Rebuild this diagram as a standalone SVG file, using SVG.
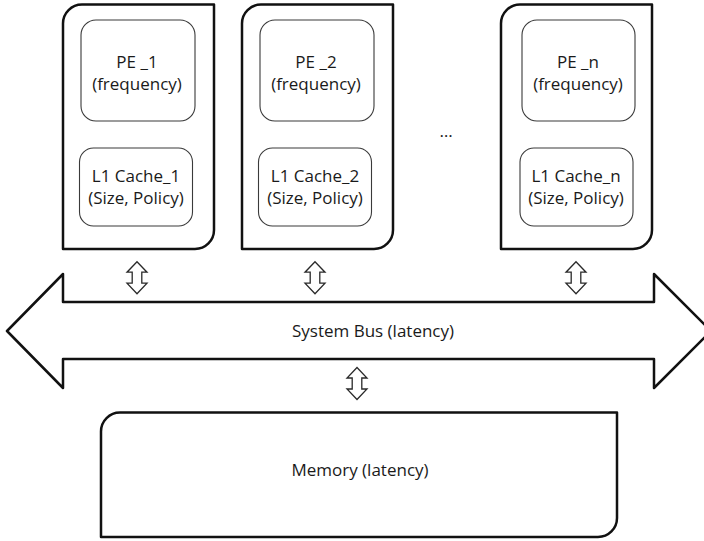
<svg xmlns="http://www.w3.org/2000/svg" xmlns:xlink="http://www.w3.org/1999/xlink" width="704" height="541" viewBox="0 0 704 541">
  <style>
    .outer { fill: #ffffff; stroke: #111111; stroke-width: 2.5; stroke-linejoin: round; }
    .inner { fill: #ffffff; stroke: #3a3a3a; stroke-width: 1.1; }
    .label { font-family: "Open Sans", "Liberation Sans", sans-serif; font-size: 17px; fill: #1a1a1a; text-anchor: middle; }
    .link { fill: #ffffff; stroke: #2a2a2a; stroke-width: 1.3; stroke-linejoin: miter; }
  </style>
  <defs>
    <!-- processing element tile: rounded top-left and bottom-right corners -->
    <path id="tile" d="M 63,249 V 23.5 A 19 19 0 0 1 82,4.5 H 214 V 230 A 19 19 0 0 1 195,249 Z"/>
    <!-- vertical two-way link -->
    <path id="dbl" d="M 0,-16 L 10,-5.5 L 4.8,-5.5 L 4.8,5.5 L 10,5.5 L 0,16 L -10,5.5 L -4.8,5.5 L -4.8,-5.5 L -10,-5.5 Z"/>
  </defs>
  <rect width="704" height="541" fill="#ffffff"/>

  <g id="pe1">
    <use xlink:href="#tile" class="outer"/>
    <rect class="inner" x="81" y="20" width="114" height="101" rx="15"/>
    <text class="label" x="137" y="68">PE _1</text>
    <text class="label" x="137" y="90">(frequency)</text>
    <rect class="inner" x="79.5" y="148" width="113" height="78" rx="14"/>
    <text class="label" x="136" y="182">L1 Cache_1</text>
    <text class="label" x="136" y="204">(Size, Policy)</text>
  </g>

  <g id="pe2" transform="translate(179,0)">
    <use xlink:href="#tile" class="outer"/>
    <rect class="inner" x="81" y="20" width="114" height="101" rx="15"/>
    <text class="label" x="137" y="68">PE _2</text>
    <text class="label" x="137" y="90">(frequency)</text>
    <rect class="inner" x="79.5" y="148" width="113" height="78" rx="14"/>
    <text class="label" x="136" y="182">L1 Cache_2</text>
    <text class="label" x="136" y="204">(Size, Policy)</text>
  </g>

  <g id="pen" transform="translate(438,0)">
    <use xlink:href="#tile" class="outer"/>
    <rect class="inner" x="84" y="20" width="113" height="101" rx="15"/>
    <text class="label" x="140" y="68">PE _n</text>
    <text class="label" x="140" y="90">(frequency)</text>
    <rect class="inner" x="82" y="148" width="113" height="78" rx="14"/>
    <text class="label" x="138" y="182">L1 Cache_n</text>
    <text class="label" x="138" y="204">(Size, Policy)</text>
  </g>

  <text id="ellipsis" class="label" x="446" y="137">…</text>

  <g id="bus">
    <path class="outer" d="M 7,331 L 63,274 V 302 H 654 V 274 L 711,331 L 654,388 V 359 H 63 V 388 Z"/>
    <text class="label" x="373" y="337">System Bus (latency)</text>
  </g>

  <g id="memory">
    <path class="outer" d="M 101,537 V 431.5 A 19 19 0 0 1 120,412.5 H 617 V 518 A 19 19 0 0 1 598,537 Z"/>
    <text class="label" x="360" y="476">Memory (latency)</text>
  </g>

  <g id="connectors">
    <use xlink:href="#dbl" class="link" transform="translate(137,277.7)"/>
    <use xlink:href="#dbl" class="link" transform="translate(315,277.7)"/>
    <use xlink:href="#dbl" class="link" transform="translate(576,277.7)"/>
    <use xlink:href="#dbl" class="link" transform="translate(357,383.5)"/>
  </g>
</svg>
